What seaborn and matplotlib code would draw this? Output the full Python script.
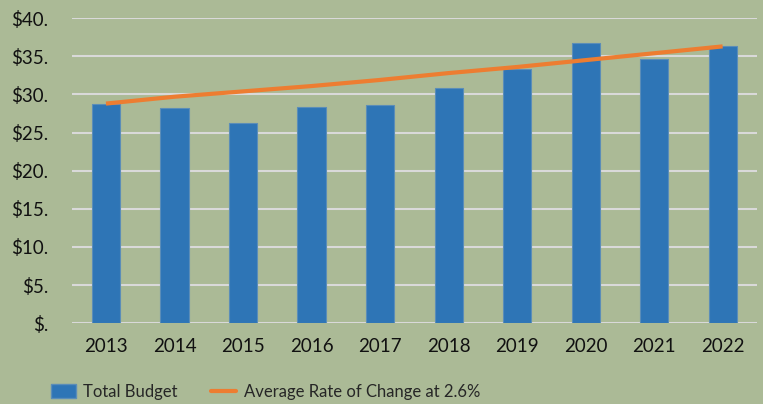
import numpy as np
import pandas as pd
import seaborn as sns
import matplotlib.pyplot as plt
from matplotlib.patches import Patch
from matplotlib.lines import Line2D

years = ["2013", "2014", "2015", "2016", "2017", "2018", "2019", "2020", "2021", "2022"]
total_budget = [28.8, 28.2, 26.3, 28.4, 28.6, 30.9, 33.3, 36.7, 34.6, 36.3]
avg_rate_line = [28.8, 29.7, 30.4, 31.1, 31.9, 32.8, 33.6, 34.5, 35.4, 36.3]
y_ticks = [0, 5, 10, 15, 20, 25, 30, 35, 40]
y_labels = ["$.", "$5.", "$10.", "$15.", "$20.", "$25.", "$30.", "$35.", "$40."]

bg = "#ABBA96"
sns.set_theme(style="white")
plt.rcParams["font.family"] = ["Lato", "DejaVu Sans"]

df = pd.DataFrame({"year": years, "budget": total_budget, "avg": avg_rate_line})

fig = plt.figure(figsize=(7.63, 4.04), dpi=100, facecolor=bg)
ax = fig.add_axes([0.094, 0.20, 0.898, 0.755])
ax.set_facecolor(bg)

sns.barplot(data=df, x="year", y="budget", color="#2E75B6", width=0.41,
            edgecolor="#5B8DB8", linewidth=0.8, saturation=1, ax=ax, zorder=3)
ax.plot(np.arange(len(years)), df["avg"], color="#ED7D31", linewidth=3,
        solid_capstyle="butt", zorder=4)

ax.set_ylim(0, 40)
ax.set_xlim(-0.5, len(years) - 0.5)
ax.set_yticks(y_ticks)
ax.set_yticklabels(y_labels)
ax.yaxis.grid(True, color="#D9D9D9", linewidth=1.5, zorder=0)
ax.set_axisbelow(True)
ax.set_xlabel("")
ax.set_ylabel("")
for s in ax.spines.values():
    s.set_visible(False)
ax.tick_params(axis="both", length=0, labelsize=13.5, colors="#111111")
ax.tick_params(axis="x", pad=11)
ax.tick_params(axis="y", pad=17)

handles = [Patch(facecolor="#2E75B6", edgecolor="#5B8DB8"),
           Line2D([0], [0], color="#ED7D31", linewidth=3)]
fig.legend(handles, ["Total Budget", "Average Rate of Change at 2.6%"],
           loc="center", bbox_to_anchor=(0.348, 0.03), ncol=2, frameon=False,
           fontsize=12, handlelength=1.5, handleheight=0.9, columnspacing=2.0,
           handletextpad=0.45)

fig.savefig("out.png", dpi=100, facecolor=bg)
